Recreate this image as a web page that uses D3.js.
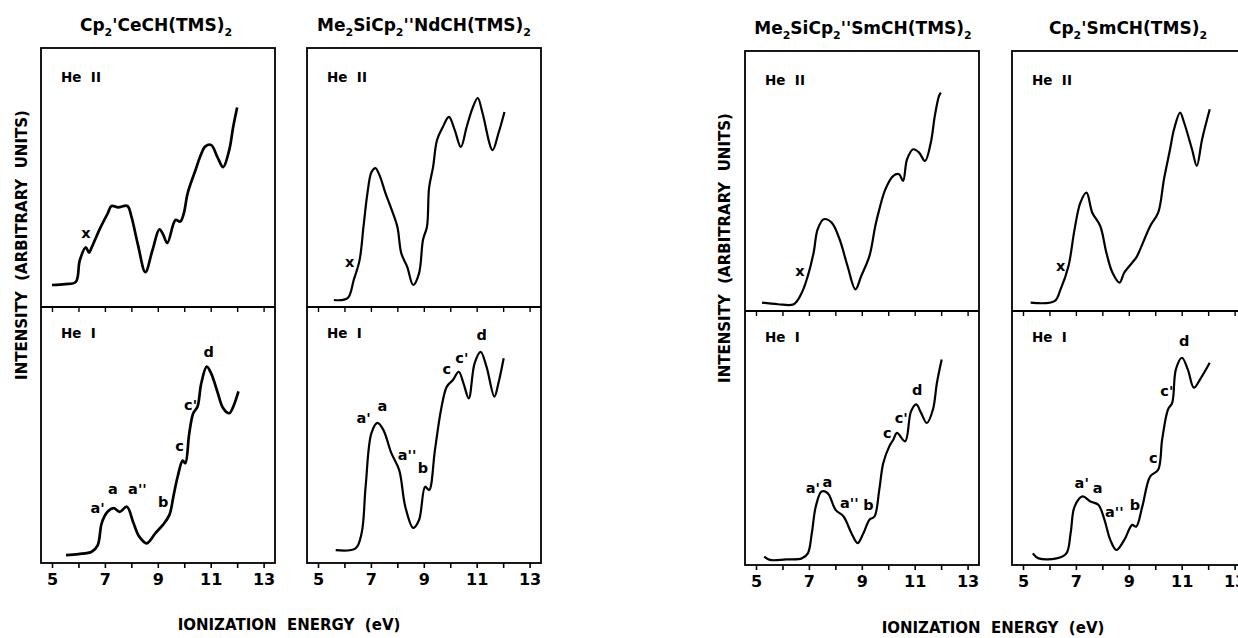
<!DOCTYPE html>
<html>
<head>
<meta charset="utf-8">
<script src="https://cdn.jsdelivr.net/npm/d3@7"></script>
<style>
  body { margin: 0; background: #fff; }
  text { font-family: "DejaVu Sans", sans-serif; font-weight: bold; fill: #000; }
</style>
</head>
<body>
<svg id="chart" width="1238" height="638"></svg>
<script>
// energies in eV, intensity as % of the sub-panel height (arbitrary units)
var tickValues = [5, 6, 7, 8, 9, 10, 11, 12, 13];
var tickLabels = [5, 7, 9, 11, 13];

var ceHe2 = [[5.0,8.5],[5.5,8.8],[5.9,9.7],[6.05,18],[6.28,23],[6.4,21],[6.5,23],[6.8,30],[7.1,36],[7.25,39],[7.5,38.5],[7.85,39],[8.0,35],[8.25,24],[8.53,13.5],[8.8,22],[9.06,30],[9.2,28],[9.36,24.7],[9.67,33.6],[9.85,33],[9.98,36],[10.13,44],[10.43,53],[10.6,58],[10.8,62],[11.02,62.5],[11.25,58],[11.47,54],[11.7,60.6],[11.85,69.5],[12.0,77]];
var ceHe1 = [[5.53,3.1],[6.0,3.5],[6.5,4.4],[6.73,7],[6.88,15.6],[7.1,20],[7.33,21.4],[7.56,20],[7.83,22],[8.08,15.6],[8.3,10.3],[8.58,7.7],[8.91,11.7],[9.2,15],[9.44,18.8],[9.59,26],[9.75,33.7],[9.94,40],[10.04,39],[10.19,50.7],[10.34,58.5],[10.5,61],[10.64,70],[10.85,76.7],[11.02,74],[11.25,67],[11.47,60.5],[11.7,58.5],[11.85,61],[12.05,67]];
var cePeaks = [["a'",6.72,21.5],["a",7.3,29],["a''",8.23,29],["b",9.2,24],["c",9.82,45.7],["c'",10.24,61.7],["d",10.92,82.4]];
var ceMark = [["x",6.28,28.6]];

var ndHe2 = [[5.6,2.7],[6.12,3.4],[6.35,10.4],[6.57,18],[6.72,31],[6.87,44],[7.02,52],[7.17,53.6],[7.32,51],[7.55,44],[7.77,38],[8.0,31],[8.15,20.7],[8.37,15.6],[8.6,8.5],[8.82,13],[8.97,26],[9.12,31],[9.2,46],[9.35,54],[9.5,64.5],[9.72,69.5],[9.95,73.4],[10.17,68.3],[10.4,61.8],[10.62,69.5],[10.85,77],[11.04,80.7],[11.22,74.9],[11.6,60.6],[11.82,67],[12.05,75.3]];
var ndHe1 = [[5.67,5],[6.42,5.7],[6.65,11.7],[6.8,29.8],[7.02,50.7],[7.25,54.7],[7.47,52],[7.77,43],[8.07,36.3],[8.3,22],[8.6,13.7],[8.82,16.8],[9.05,29.8],[9.2,28.5],[9.42,44],[9.65,59.8],[9.87,68.9],[10.1,71.5],[10.32,74.7],[10.5,70.2],[10.7,64.3],[10.92,78],[11.15,82.5],[11.37,76.7],[11.67,65],[11.82,70.2],[12.02,80]];
var ndPeaks = [["a'",6.72,56.5],["a",7.43,61.3],["a''",8.37,42.2],["b",8.97,37],["c",9.87,75.8],["c'",10.44,80],["d",11.19,89]];
var ndMark = [["x",6.2,17.5]];

var sm1He2 = [[5.23,3.2],[5.83,2.6],[6.43,2.6],[6.73,7],[6.96,13.5],[7.18,22.5],[7.33,31.4],[7.56,35.3],[7.86,34],[8.16,27.6],[8.46,17.3],[8.76,8.3],[8.98,13.5],[9.29,21.2],[9.51,32.7],[9.66,39],[9.89,46.8],[10.19,52],[10.41,52.6],[10.56,50],[10.71,58.3],[10.94,62.2],[11.16,61],[11.39,57.7],[11.61,64.8],[11.76,75],[11.92,82.7],[11.99,84]];
var sm1He1 = [[5.31,3.3],[5.53,2],[6.13,2.2],[6.73,2.6],[6.96,4.6],[7.11,12.5],[7.26,23],[7.48,28.9],[7.71,28.3],[8.01,21.7],[8.31,19.1],[8.61,12.5],[8.84,8.6],[9.06,12.5],[9.29,17.8],[9.48,19.1],[9.66,29.6],[9.81,40.1],[10.04,46.7],[10.19,49.3],[10.33,52],[10.64,48.7],[10.86,60.5],[11.06,63.2],[11.24,59.9],[11.46,55.9],[11.69,61.2],[11.84,71.7],[12.02,80.9]];
var sm1Peaks = [["a'",7.15,30.3],["a",7.7,32.9],["a''",8.53,24.4],["b",9.25,23.7],["c",9.96,52],["c'",10.49,57.9],["d",11.09,69.1]];
var sm1Mark = [["x",6.66,15.4]];

var sm2He2 = [[5.29,3.2],[6.19,3.8],[6.42,8.3],[6.72,17.3],[6.95,31.4],[7.17,41.7],[7.4,45.5],[7.62,37.8],[7.92,32.7],[8.15,22.5],[8.38,14.8],[8.65,10.9],[8.83,14.8],[9.13,18.6],[9.28,20.5],[9.43,23.7],[9.81,32.7],[10.11,37.8],[10.33,50.7],[10.56,62.2],[10.71,69.9],[10.94,76.3],[11.09,72.5],[11.39,62.2],[11.57,55.8],[11.77,66],[12.06,77.6]];
var sm2He1 = [[5.37,4.6],[5.59,2.6],[6.27,2.6],[6.64,4.6],[6.8,12.5],[6.95,23],[7.25,27],[7.55,25],[7.85,23.7],[8.08,17.8],[8.3,9.9],[8.53,5.9],[8.83,9.9],[9.13,15.8],[9.28,15.1],[9.51,23],[9.81,34.9],[10.11,37.5],[10.26,49.3],[10.48,61.2],[10.64,63.8],[10.78,77],[11.01,81.6],[11.23,77],[11.46,69.8],[11.69,73],[12.06,79.6]];
var sm2Peaks = [["a'",7.22,32.5],["a",7.82,30.5],["a''",8.45,21],["b",9.23,23.7],["c",9.93,42.1],["c'",10.44,68.4],["d",11.09,88.2]];
var sm2Mark = [["x",6.42,17.3]];

var svg = d3.select("#chart");

// panel boxes (pixel layout)
var panels = [
  {title: "Cp2'CeCH(TMS)2",       left: 41,  top: 48, mid: 307, bottom: 563, titleX: 156,  titleY: 31, he2: ceHe2,  he1: ceHe1,  peaks: cePeaks,  mark: ceMark,  sw: 2.7},
  {title: "Me2SiCp2''NdCH(TMS)2", left: 307, top: 48, mid: 307, bottom: 563, titleX: 424,  titleY: 31, he2: ndHe2,  he1: ndHe1,  peaks: ndPeaks,  mark: ndMark,  sw: 2.2},
  {title: "Me2SiCp2''SmCH(TMS)2", left: 745, top: 51, mid: 311, bottom: 565, titleX: 863,  titleY: 34, he2: sm1He2, he1: sm1He1, peaks: sm1Peaks, mark: sm1Mark, sw: 2.2},
  {title: "Cp2'SmCH(TMS)2",       left: 1012,top: 51, mid: 311, bottom: 565, titleX: 1128, titleY: 34, he2: sm2He2, he1: sm2He1, peaks: sm2Peaks, mark: sm2Mark, sw: 2.2}
];

var pxPerEv = 26.45;
var boxWidth = 234;

// title with every "2" set as a subscript
function drawTitle(p) {
  var t = svg.append("text")
      .attr("x", p.titleX)
      .attr("y", p.titleY)
      .attr("text-anchor", "middle")
      .style("font-size", "17px");
  var parts = p.title.split("2");
  var shift = null;
  parts.forEach(function(s, i) {
    if (s) {
      var ts = t.append("tspan").text(s);
      if (shift) ts.attr("dy", shift);
    }
    if (i < parts.length - 1) {
      t.append("tspan").attr("dy", "5").style("font-size", "11px").text("2");
      shift = "-5";
    }
  });
}

panels.forEach(function(p) {
  var x = d3.scaleLinear().domain([5, 13]).range([p.left + 11, p.left + 11 + 8 * pxPerEv]);
  var y2 = d3.scaleLinear().domain([0, 100]).range([p.mid, p.top]);
  var y1 = d3.scaleLinear().domain([0, 100]).range([p.bottom, p.mid]);

  var g = svg.append("g");

  // box and divider
  g.append("rect")
      .attr("x", p.left).attr("y", p.top)
      .attr("width", boxWidth).attr("height", p.bottom - p.top)
      .attr("fill", "none").attr("stroke", "#000").attr("stroke-width", 1.8);
  g.append("line")
      .attr("x1", p.left).attr("x2", p.left + boxWidth)
      .attr("y1", p.mid).attr("y2", p.mid)
      .attr("stroke", "#000").attr("stroke-width", 1.8);

  // bottom axis
  var bottomAxis = d3.axisBottom(x)
      .tickValues(tickValues)
      .tickSize(5)
      .tickPadding(6)
      .tickFormat(function(d) { return tickLabels.indexOf(d) >= 0 ? d : ""; });
  var ax = g.append("g").attr("transform", "translate(0," + p.bottom + ")").call(bottomAxis);
  ax.select(".domain").remove();
  ax.selectAll("line").attr("stroke-width", 1.6);
  ax.selectAll("text").filter(function(d) { return tickLabels.indexOf(d) < 0; }).remove();
  ax.selectAll("text").style("font-size", "16px").style("font-family", "\"DejaVu Sans\", sans-serif");

  // ticks under the divider
  var midAxis = d3.axisBottom(x).tickValues(tickValues).tickSize(5).tickFormat("");
  var mx = g.append("g").attr("transform", "translate(0," + p.mid + ")").call(midAxis);
  mx.select(".domain").remove();
  mx.selectAll("text").remove();
  mx.selectAll("line").attr("stroke-width", 1.4);

  // curves
  var line2 = d3.line().x(function(d) { return x(d[0]); }).y(function(d) { return y2(d[1]); })
      .curve(d3.curveCatmullRom.alpha(0.5));
  var line1 = d3.line().x(function(d) { return x(d[0]); }).y(function(d) { return y1(d[1]); })
      .curve(d3.curveCatmullRom.alpha(0.5));
  g.append("path").attr("d", line2(p.he2)).attr("fill", "none")
      .attr("stroke", "#000").attr("stroke-width", p.sw).attr("stroke-linejoin", "round");
  g.append("path").attr("d", line1(p.he1)).attr("fill", "none")
      .attr("stroke", "#000").attr("stroke-width", p.sw).attr("stroke-linejoin", "round");

  // He II / He I labels
  g.append("text").attr("x", p.left + 20).attr("y", p.top + 34)
      .style("font-size", "13.5px").style("white-space", "pre").text("He  II");
  g.append("text").attr("x", p.left + 20).attr("y", p.mid + 31)
      .style("font-size", "13.5px").style("white-space", "pre").text("He  I");

  // peak letters
  g.selectAll(".peak").data(p.peaks).enter().append("text")
      .attr("class", "peak")
      .attr("x", function(d) { return x(d[1]); })
      .attr("y", function(d) { return y1(d[2]); })
      .attr("dy", "0.35em")
      .attr("text-anchor", "middle")
      .style("font-size", "14.5px")
      .text(function(d) { return d[0]; });
  g.selectAll(".mark").data(p.mark).enter().append("text")
      .attr("class", "mark")
      .attr("x", function(d) { return x(d[1]); })
      .attr("y", function(d) { return y2(d[2]); })
      .attr("dy", "0.35em")
      .attr("text-anchor", "middle")
      .style("font-size", "14.5px")
      .text(function(d) { return d[0]; });

  drawTitle(p);
});

// axis titles, one pair per half
[[22, 245, 289, 630], [725, 248, 993, 633]].forEach(function(a) {
  svg.append("text")
      .attr("transform", "translate(" + a[0] + "," + a[1] + ") rotate(-90)")
      .attr("text-anchor", "middle").attr("dy", "0.35em")
      .style("font-size", "15px").style("white-space", "pre")
      .text("INTENSITY  (ARBITRARY  UNITS)");
  svg.append("text")
      .attr("x", a[2]).attr("y", a[3])
      .attr("text-anchor", "middle")
      .style("font-size", "15px").style("white-space", "pre")
      .text("IONIZATION  ENERGY  (eV)");
});
</script>
</body>
</html>
